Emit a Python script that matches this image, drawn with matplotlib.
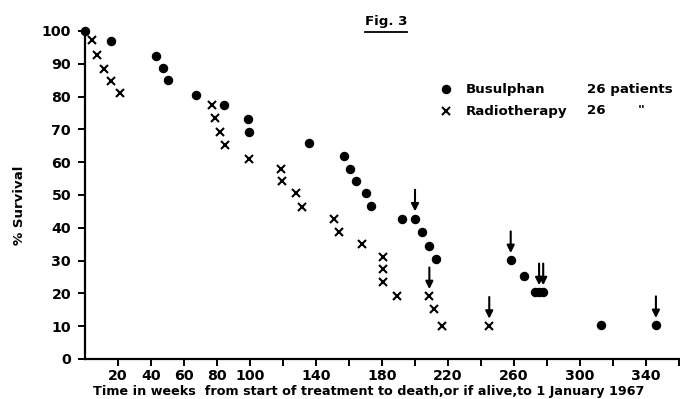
import matplotlib
matplotlib.use('Agg')
import matplotlib.pyplot as plt
from matplotlib.lines import Line2D
import numpy as np

# Busulphan group (dots); alive = still alive at 1 Jan 1967 (arrow)
bus_weeks = [0, 16, 43, 47.5, 50, 67.5, 84.5, 98.5, 99.5, 136, 157, 160.5,
             164.5, 170, 173.5, 192, 200, 204, 208.5, 213, 258, 266,
             272.8, 275.2, 277.7, 313, 346]
bus_surv = [100, 97, 92.4, 88.8, 85.1, 80.6, 77.3, 73.2, 69.1, 65.8, 62, 58,
            54.4, 50.7, 46.5, 42.8, 42.8, 38.6, 34.5, 30.4, 30.1, 25.4,
            20.3, 20.3, 20.3, 10.3, 10.3]
bus_alive = [0, 0, 0, 0, 0, 0, 0, 0, 0, 0, 0, 0,
             0, 0, 0, 0, 1, 0, 0, 0, 1, 0,
             0, 1, 1, 0, 1]

# Radiotherapy group (crosses)
rad_weeks = [4.5, 7, 11.5, 16, 21, 77, 78.5, 82, 85, 99.5, 118.7, 119.4,
             127.8, 131.7, 151, 154, 168, 180.4, 180.6, 180.4, 189, 208.7,
             211.5, 216.4, 245]
rad_surv = [97.4, 92.7, 88.4, 84.8, 81.1, 77.4, 73.5, 69.1, 65.2, 61, 57.9,
            54.3, 50.7, 46.3, 42.6, 38.8, 35.2, 31.2, 27.3, 23.4, 19.3, 19.1,
            15.1, 10.1, 10.1]
rad_alive = [0, 0, 0, 0, 0, 0, 0, 0, 0, 0, 0,
             0, 0, 0, 0, 0, 0, 0, 0, 0, 0, 1,
             0, 0, 1]

x_ticks = list(range(20, 361, 20))
x_labelled = [20, 40, 60, 80, 100, 140, 180, 220, 260, 300, 340]
y_ticks = list(range(0, 101, 10))

plt.rcParams['font.family'] = 'DejaVu Sans'
plt.rcParams['font.weight'] = 'bold'
FS = 9.6

fig = plt.figure(figsize=(6.8, 3.99), dpi=100)
ax = fig.add_axes([85/680, 1 - 359/399, 1 - 85/680, (359 - 31)/399])

ax.plot(bus_weeks, bus_surv, 'o', color='black', ms=5.8, clip_on=False)
ax.plot(rad_weeks, rad_surv, 'x', color='black', ms=5.2, mew=1.5, clip_on=False)

# arrows over patients still alive
for w, v, a in zip(bus_weeks + rad_weeks, bus_surv + rad_surv, bus_alive + rad_alive):
    if a:
        ax.annotate('', xy=(w, v + 2.2), xytext=(w, v + 8.8),
                    arrowprops=dict(arrowstyle='-|>', color='black', lw=1.5,
                                    mutation_scale=11, shrinkA=0, shrinkB=0))

ax.set_xlim(0, 360.6)
ax.set_ylim(0, 100)
ax.spines['top'].set_visible(False)
ax.spines['right'].set_visible(False)
ax.spines['left'].set_linewidth(1.6)
ax.spines['bottom'].set_linewidth(1.6)

ax.set_xticks(x_ticks)
ax.set_xticklabels([str(t) if t in x_labelled else '' for t in x_ticks], fontsize=FS + 0.6)
ax.set_yticks(y_ticks)
ax.set_yticklabels([str(t) for t in y_ticks], fontsize=FS + 0.6)
ax.tick_params(axis='both', direction='out', length=5, width=1.4, colors='black')
ax.tick_params(axis='x', pad=2)
ax.tick_params(axis='y', pad=5)

# axis titles
fig.text(369/680, 1 - 391/399,
         'Time in weeks  from start of treatment to death,or if alive,to 1 January 1967',
         fontsize=9.2, ha='center', va='center')
fig.text(20/680, 1 - 205/399, '% Survival', rotation=90, fontsize=FS,
         ha='center', va='center')

# figure title with underline
fig.text(386/680, 1 - 21/399, 'Fig. 3', fontsize=FS, ha='center', va='center')
fig.add_artist(Line2D([365/680, 407/680], [1 - 32/399, 1 - 32/399],
                      color='black', lw=1.3))

# key
fig.add_artist(Line2D([446/680], [1 - 89/399], marker='o', color='black', ms=5.8))
fig.add_artist(Line2D([446/680], [1 - 111/399], marker='x', color='black', ms=5.2, mew=1.5))
fig.text(466/680, 1 - 89/399, 'Busulphan', fontsize=FS, va='center')
fig.text(466/680, 1 - 111/399, 'Radiotherapy', fontsize=FS, va='center')
fig.text(587/680, 1 - 89/399, '26 patients', fontsize=FS, va='center')
fig.text(587/680, 1 - 111/399, '26', fontsize=FS, va='center')
fig.text(638/680, 1 - 111/399, '"', fontsize=FS, va='center')

fig.savefig('out.png', dpi=100)
